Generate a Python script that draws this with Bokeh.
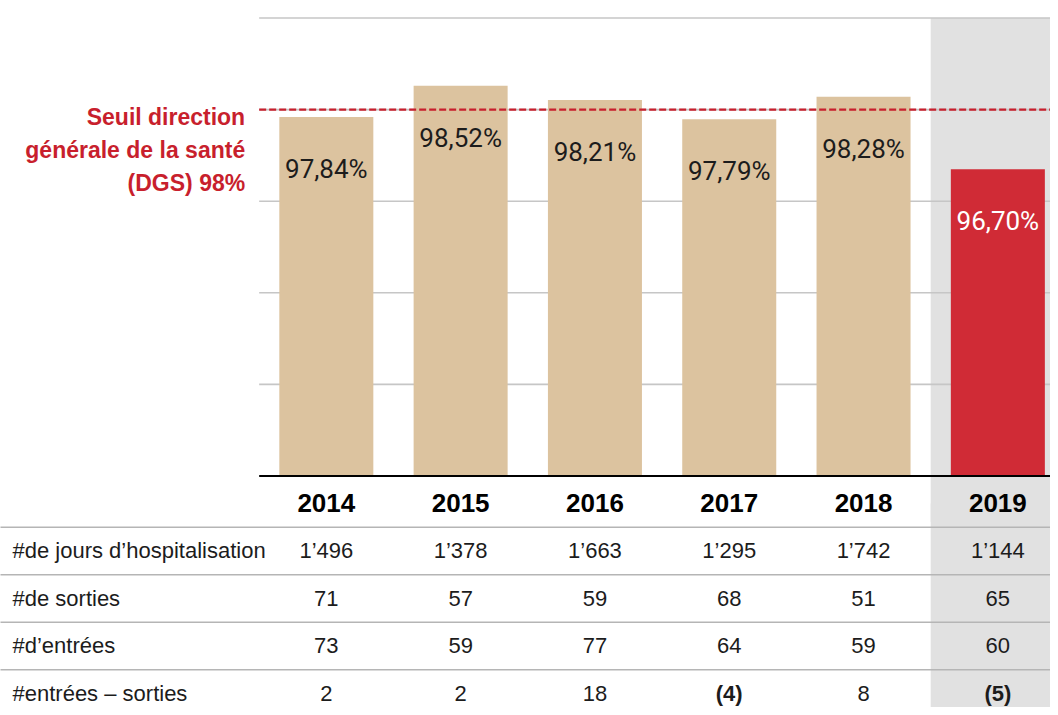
from bokeh.plotting import figure
from bokeh.models import Range1d
from bokeh.core.properties import value
from bokeh.embed import file_html
from bokeh.resources import INLINE

# ---------------- data ----------------
years = ["2014", "2015", "2016", "2017", "2018", "2019"]
taux = [97.84, 98.52, 98.21, 97.79, 98.28, 96.70]
taux_labels = ["97,84%", "98,52%", "98,21%", "97,79%", "98,28%", "96,70%"]
seuil = 98.0
seuil_lines = ["Seuil direction", "générale de la santé", "(DGS) 98%"]
grid_ticks = [92, 94, 96, 98, 100]
y_base = 90

row_labels = ["#de jours d’hospitalisation", "#de sorties", "#d’entrées", "#entrées – sorties"]
jours = ["1’496", "1’378", "1’663", "1’295", "1’742", "1’144"]
sorties = [71, 57, 59, 68, 51, 65]
entrees = [73, 59, 77, 64, 59, 60]
solde = [2, 2, 18, -4, 8, -5]
highlight = 5  # 2019

# ---------------- styles ----------------
TAN = "#dcc39f"
RED = "#d02b36"
RED_TXT = "#c81f2d"
SHADE = "#e1e1e1"
GRID = "#c6c6c6"
SEP = "#b5b5b5"
INK = "#1c1c1c"
LABEL_FONT = value("Roboto")
SANS = value("Liberation Sans")

W, H = 1050, 707
X0, X1 = -2.426, 5.392
Y0, Y1 = 84.945, 100.382
T0, T1 = 4.295, -10.589

p = figure(width=W, height=H, x_range=Range1d(X0, X1), y_range=Range1d(Y0, Y1),
           output_backend="svg", toolbar_location=None, min_border=0, title=None)
p.extra_y_ranges = {"table": Range1d(start=T0, end=T1)}
p.xaxis.visible = False
p.yaxis.visible = False
p.grid.visible = False
p.outline_line_color = None
p.background_fill_color = "white"
p.border_fill_color = "white"

n = len(years)
xs = list(range(n))

# highlight column
p.quad(left=[highlight - 0.5], right=[highlight + 0.5], bottom=[T0 + 1], top=[0],
       y_range_name="table", fill_color=SHADE, line_color=None)
p.quad(left=[highlight - 0.5], right=[highlight + 0.5], bottom=[y_base - 1], top=[100],
       fill_color=SHADE, line_color=None)

# grid lines
p.segment(x0=[-0.5] * len(grid_ticks), x1=[n - 0.4] * len(grid_ticks),
          y0=grid_ticks, y1=grid_ticks, line_color=GRID, line_width=1.6)

# bars
colors = [RED if i == highlight else TAN for i in xs]
p.vbar(x=xs, top=taux, bottom=y_base, width=0.7, fill_color=colors, line_color=None)

# baseline
p.segment(x0=[-0.5], x1=[n - 0.4], y0=[y_base], y1=[y_base], line_color="black", line_width=2)

# threshold
p.segment(x0=[-0.5], x1=[n - 0.4], y0=[seuil], y1=[seuil], line_color=RED_TXT,
          line_width=2.4, line_dash="7 3")
for k, s in enumerate(seuil_lines):
    p.text(x=[-0.5], y=[seuil], text=[s], x_offset=-14, y_offset=7 + 33 * k,
           text_align="right", text_baseline="middle", text_font=SANS,
           text_font_style="bold", text_font_size="23px", text_color=RED_TXT)

# bar labels
label_colors = ["white" if i == highlight else INK for i in xs]
p.text(x=xs, y=taux, text=taux_labels, y_offset=52, text_align="center",
       text_baseline="middle", text_font=LABEL_FONT, text_font_size="26px",
       text_color=label_colors)

# ---------------- table ----------------
p.text(x=xs, y=[0] * n, text=years, y_range_name="table", text_align="center",
       text_baseline="middle", text_font=SANS, text_font_style="bold",
       text_font_size="26px", text_color="black")

seps = [0.5 + k for k in range(len(row_labels))]
p.segment(x0=[X0 - 1] * len(seps), x1=[X1 + 1] * len(seps), y0=seps, y1=seps,
          y_range_name="table", line_color=SEP, line_width=1.6)

p.text(x=[X0] * len(row_labels), y=[k + 1 for k in range(len(row_labels))],
       text=row_labels, x_offset=12, y_range_name="table", text_align="left",
       text_baseline="middle", text_font=SANS, text_font_size="22px", text_color=INK)

rows = [jours, [str(v) for v in sorties], [str(v) for v in entrees]]
for r, vals in enumerate(rows):
    p.text(x=xs, y=[r + 1] * n, text=vals, y_range_name="table", text_align="center",
           text_baseline="middle", text_font=SANS, text_font_size="22px", text_color=INK)

solde_txt = [f"({-v})" if v < 0 else str(v) for v in solde]
for i in xs:
    p.text(x=[i], y=[4], text=[solde_txt[i]], y_range_name="table", text_align="center",
           text_baseline="middle", text_font=SANS, text_font_size="22px",
           text_font_style="bold" if solde[i] < 0 else "normal", text_color=INK)

open("out.html", "w").write(file_html(p, INLINE))
